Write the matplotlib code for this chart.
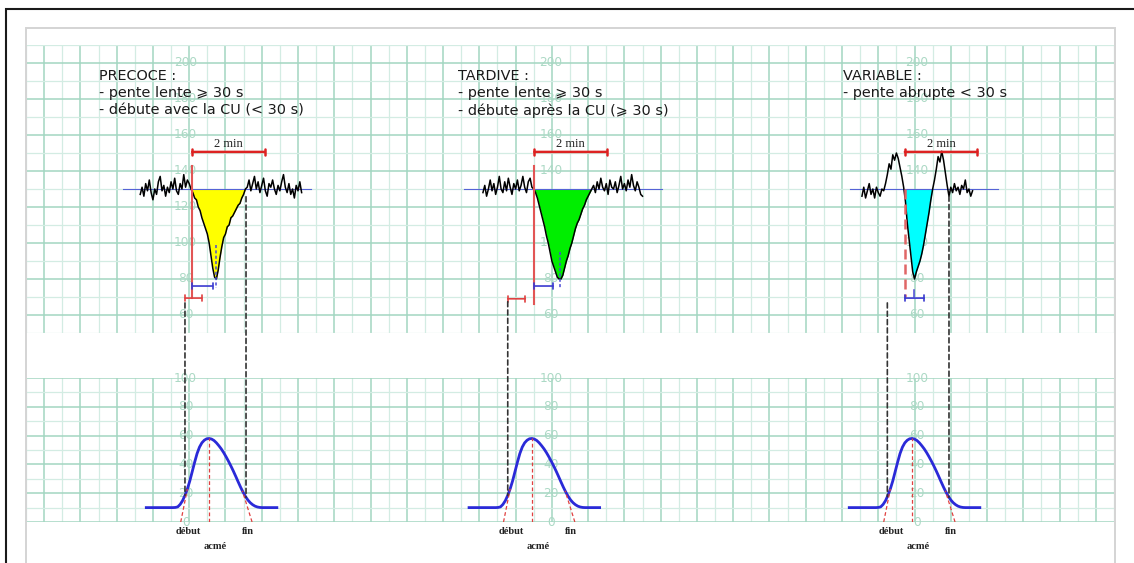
import numpy as np
import matplotlib
matplotlib.use('Agg')
import matplotlib.pyplot as plt
from matplotlib.patches import ConnectionPatch, Rectangle

# Rythme cardiaque foetal (bpm), un point toutes les 3 s
pas = 3
rcf1_t0 = 189
rcf1 = [127, 131, 126, 133, 129, 135, 128, 124, 130, 127, 134, 137, 129, 132, 126,
        131, 128, 134, 130, 136, 129, 127, 133, 130, 138, 131, 135, 133, 130,
        128, 125, 124, 120, 118, 114, 111, 108, 105, 100, 93, 86, 81, 80, 85,
        92, 98, 103, 105, 109, 110, 114, 115, 117, 119, 121, 122, 125, 127, 130,
        131, 135, 129, 133, 137, 130, 134, 128, 132, 136, 129, 126, 133, 131, 135,
        130, 127, 132, 129, 134, 138, 131, 128, 133, 127, 130, 125, 132, 129, 134, 128]
rcf2_t0 = 756
rcf2 = [128, 132, 126, 130, 135, 129, 133, 127, 131, 137, 130, 128, 134, 129, 136,
        131, 127, 133, 130, 135, 129, 132, 137, 131, 128, 134, 136, 131, 130,
        128, 125, 121, 117, 113, 109, 104, 100, 95, 90, 87, 84, 81, 80, 80, 82,
        86, 90, 93, 97, 100, 104, 108, 111, 113, 116, 119, 121, 124, 126, 128, 130,
        132, 128, 134, 130, 136, 131, 129, 133, 127, 135, 131, 130, 134, 128, 132,
        137, 130, 133, 129, 135, 131, 138, 132, 129, 134, 131, 127, 126]
rcf3_t0 = 1383
rcf3 = [126, 131, 125, 129, 133, 127, 130, 125, 131, 128, 126, 130, 129,
        133, 138, 144, 141, 149, 146, 150, 147, 142, 137, 131,
        123, 111, 102, 93, 84, 80, 84, 87, 90, 94, 99, 105, 111, 117, 124, 130,
        135, 141, 148, 145, 151, 146, 139, 132, 126,
        131, 128, 133, 129, 131, 127, 132, 130, 135, 128, 130, 126, 129]
ligne_base = 130
# zones de deceleration (s)
dec = [(274, 365), (841, 938), (1452, 1501)]
couleurs_dec = ['#ffff00', '#00ee00', '#00ffff']
# ligne de base bleue (s)
base = [(160, 471), (725, 1052), (1363, 1608)]

# Contraction uterine (mmHg), un point toutes les 4 s autour de l'acme
cu_t = np.arange(-104, 113, 4)
cu = [10, 10, 10, 10, 10, 10, 10, 10, 10, 10, 10, 10,
      10.1, 10.5, 12.2, 14.8, 18.5, 23, 28.5, 35, 41.5, 47.5, 52, 55, 56.8, 57.8,
      58,
      57.6, 56.6, 55, 53, 50.8, 48.2, 45.3, 42.2, 38.9, 35.4, 31.7, 27.9, 24.2,
      20.8, 17.8, 15.3, 13.4, 12, 11, 10.4, 10.1, 10,
      10, 10, 10, 10, 10, 10]
acme = [303, 837, 1466]
debut_rel = -47
fin_rel = 71

# reperes
rouge_x = [275, 841, 1454]
crochet_rouge = [(263, 291, 69.4), (797, 826, 69)]
crochet_bleu = [(275, 309, 76.1), (841, 872, 76.1), (1454, 1486, 69.4)]
nadir = [(314, 99, 75), (883.5, 95, 75), (1469, 74, 69.4)]
pointille_noir = [(263, 66.7), (364, 125.7), (797, 67.4), (1425, 66.7), (1527, 126)]

titres = [['PRECOCE :', '- pente lente \u2a7e 30 s', '- débute avec la CU (< 30 s)'],
          ['TARDIVE :', '- pente lente \u2a7e 30 s', '- débute après la CU (\u2a7e 30 s)'],
          ['VARIABLE :', '- pente abrupte < 30 s']]
titres_x = [121, 715, 1352]
echelle_x = [264, 868.5, 1474]
rcf_labels = [200, 180, 160, 140, 120, 100, 80, 60]
cu_labels = [100, 80, 60, 40, 20, 0]

W, H = 1134, 563
fig = plt.figure(figsize=(W / 100, H / 100), dpi=100)
ax_h = fig.add_axes([26 / W, 1 - 333 / H, 1088 / W, 288 / H])
ax_b = fig.add_axes([26 / W, 1 - 522 / H, 1088 / W, 144 / H])

vert_fort = '#a3d6c1'
vert_fin = '#d3ece3'
vert_txt = '#acd9c5'

for ax in (ax_h, ax_b):
    ax.set_xlim(0, 1800)
    ax.set_xticks(np.arange(30, 1800, 60))
    ax.set_xticks(np.arange(0, 1801, 60), minor=True)
    ax.grid(which='major', color=vert_fort, lw=1.1)
    ax.grid(which='minor', color=vert_fin, lw=0.9)
    ax.set_axisbelow(True)
    ax.tick_params(which='both', length=0, labelbottom=False, labelleft=False)
    for s in ax.spines.values():
        s.set_visible(False)
    ax.patch.set_alpha(0)

ax_h.set_ylim(50, 210)
ax_h.set_yticks(np.arange(60, 211, 20))
ax_h.set_yticks(np.arange(50, 211, 10), minor=True)
ax_b.set_ylim(0, 100)
ax_b.set_yticks(np.arange(0, 101, 20))
ax_b.set_yticks(np.arange(0, 101, 10), minor=True)

# graduations
for x in echelle_x:
    for v in rcf_labels:
        ax_h.text(x, v, str(v), color=vert_txt, fontsize=8.7, ha='center', va='center', zorder=1)
    for v in cu_labels:
        ax_b.text(x, v, str(v), color=vert_txt, fontsize=8.7, ha='center', va='center',
                  zorder=1, clip_on=False)

# RCF
for i, (t0, rcf) in enumerate([(rcf1_t0, rcf1), (rcf2_t0, rcf2), (rcf3_t0, rcf3)]):
    t = t0 + pas * np.arange(len(rcf))
    rcf = np.array(rcf)
    ax_h.plot(base[i], [ligne_base, ligne_base], color='#5563d6', lw=0.8, zorder=2.5)
    m = (t >= dec[i][0]) & (t <= dec[i][1])
    ax_h.fill_between(t, rcf, ligne_base, where=m & (rcf <= ligne_base), interpolate=True,
                      color=couleurs_dec[i], lw=0, zorder=2)
    ax_h.plot(t, rcf, color='black', lw=1.1, zorder=3)

# contractions
for i, a in enumerate(acme):
    t = a + cu_t
    ax_b.plot(t, cu, color='#2a2ad8', lw=2, zorder=3)
    yd = np.interp(a + debut_rel + 11, t, cu)
    yf = np.interp(a + fin_rel - 16, t, cu)
    ax_b.plot([a + debut_rel, a + debut_rel + 11], [0, yd], color='#e04040', lw=0.9,
              ls=(0, (3, 2)), zorder=4)
    ax_b.plot([a + fin_rel, a + fin_rel - 16], [0, yf], color='#e04040', lw=0.9,
              ls=(0, (3, 2)), zorder=4)
    ax_b.plot([a, a], [0, max(cu)], color='#e04040', lw=0.9, ls=(0, (3, 2)), zorder=4)
    for dx, dy, txt in [(-35, -6.3, 'début'), (64, -6.3, 'fin'), (10, -16.7, 'acmé')]:
        ax_b.text(a + dx, dy, txt, fontsize=7.5, fontweight='bold', family='Liberation Serif',
                  ha='center', va='center', color='#222222', clip_on=False)

# 2 min
for x in rouge_x:
    ax_h.annotate('', xy=(x + 120, 150.6), xytext=(x, 150.6),
                  arrowprops=dict(arrowstyle='|-|,widthA=0.22,widthB=0.22', color='#dd2222',
                                  lw=1.8, shrinkA=0, shrinkB=0), zorder=4)
    ax_h.text(x + 60, 153.2, '2 min', fontsize=9, family='Liberation Serif', ha='center',
              va='baseline', color='#222222', zorder=5)

# lignes rouges verticales
ax_h.plot([rouge_x[0], rouge_x[0]], [143, 69.4], color='#e25555', lw=1.5, zorder=4)
ax_h.plot([rouge_x[1], rouge_x[1]], [143, 66], color='#e25555', lw=1.5, zorder=4)
ax_h.plot([rouge_x[2], rouge_x[2]], [130, 70], color='#e06666', lw=1.8, ls=(0, (4, 2)), zorder=4)

for x0, x1, y in crochet_rouge:
    ax_h.annotate('', xy=(x1, y), xytext=(x0, y),
                  arrowprops=dict(arrowstyle='|-|,widthA=0.2,widthB=0.2', color='#e04040',
                                  lw=1.2, shrinkA=0, shrinkB=0), zorder=4)
for x0, x1, y in crochet_bleu:
    ax_h.annotate('', xy=(x1, y), xytext=(x0, y),
                  arrowprops=dict(arrowstyle='|-|,widthA=0.2,widthB=0.2', color='#3a3ad0',
                                  lw=1.2, shrinkA=0, shrinkB=0), zorder=4)
for k, (x, y0, y1) in enumerate(nadir):
    ax_h.plot([x, x], [y0, y1], color='#4a4ad4', lw=1.1, ls=(0, (2, 1.5)) if k < 2 else '-',
              zorder=4)

# pointilles noirs RCF -> CU
for x, y0 in pointille_noir:
    i = int(np.argmin([abs(x - a) for a in acme]))
    y1 = np.interp(x, acme[i] + cu_t, cu)
    cp = ConnectionPatch(xyA=(x, y0), coordsA=ax_h.transData, xyB=(x, y1),
                         coordsB=ax_b.transData, color='#333333', lw=1.2, ls=(0, (3, 2)))
    fig.add_artist(cp)

# textes
for x, lignes in zip(titres_x, titres):
    for k, s in enumerate(lignes):
        ax_h.text(x, 192.8 - k * 9.7, s, fontsize=10.4, ha='left', va='center',
                  color='#1a1a1a', family=['DejaVu Sans'], zorder=5)

# cadres
fig.add_artist(Rectangle((26 / W, -0.1), 1089 / W, 1.1 - 28 / H, transform=fig.transFigure,
                         fill=False, ec='#d4d4d4', lw=1.4))
fig.add_artist(Rectangle((6 / W, -0.1), 1.2, 1.1 - 9 / H, transform=fig.transFigure,
                         fill=False, ec='#1a1a1a', lw=1.5))

fig.savefig('out.png', dpi=100)
